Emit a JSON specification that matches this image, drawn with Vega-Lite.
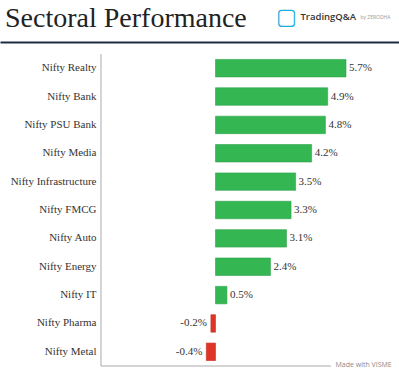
{
  "$schema": "https://vega.github.io/schema/vega-lite/v6.json",
  "width": 399,
  "height": 312,
  "autosize": "none",
  "padding": {"left": 0, "top": 54, "right": 0, "bottom": 9},
  "background": "white",
  "config": {"view": {"stroke": null}},
  "title": {
    "text": "Sectoral Performance",
    "anchor": "start",
    "frame": "group",
    "font": "Liberation Serif",
    "fontSize": 28,
    "fontWeight": "normal",
    "color": "#222222",
    "dx": 5,
    "offset": -50,
    "baseline": "alphabetic"
  },
  "data": {
    "values": [
      {"sector": "Nifty Realty", "value": 0.057, "label": "5.7%"},
      {"sector": "Nifty Bank", "value": 0.049, "label": "4.9%"},
      {"sector": "Nifty PSU Bank", "value": 0.048, "label": "4.8%"},
      {"sector": "Nifty Media", "value": 0.042, "label": "4.2%"},
      {"sector": "Nifty Infrastructure", "value": 0.035, "label": "3.5%"},
      {"sector": "Nifty FMCG", "value": 0.033, "label": "3.3%"},
      {"sector": "Nifty Auto", "value": 0.031, "label": "3.1%"},
      {"sector": "Nifty Energy", "value": 0.024, "label": "2.4%"},
      {"sector": "Nifty IT", "value": 0.005, "label": "0.5%"},
      {"sector": "Nifty Pharma", "value": -0.002, "label": "-0.2%"},
      {"sector": "Nifty Metal", "value": -0.004, "label": "-0.4%"}
    ]
  },
  "resolve": {"axis": {"x": "independent", "y": "independent"}},
  "layer": [
    {
      "mark": {"type": "bar", "strokeWidth": 0.6},
      "encoding": {
        "y": {
          "field": "sector", "type": "nominal", "sort": null,
          "scale": {"paddingInner": 0.384, "paddingOuter": 0.192},
          "axis": {
            "offset": -101, "domain": false, "ticks": false, "labelPadding": 5,
            "labelFont": "Liberation Serif", "labelFontSize": 11, "labelColor": "#333333",
            "title": "by ZERODHA", "titleAngle": 0, "titleX": 259, "titleY": -38,
            "titleAlign": "left", "titleBaseline": "middle", "titleFont": "Open Sans",
            "titleFontSize": 5, "titleFontWeight": "normal", "titleColor": "#9a9a9a"
          }
        },
        "x": {
          "field": "value", "type": "quantitative",
          "scale": {"domain": [-0.09411, 0.08015], "nice": false, "zero": false},
          "axis": {
            "orient": "top", "offset": 12, "domainColor": "#1e2b45", "domainWidth": 2,
            "labels": false, "ticks": false, "grid": false,
            "title": "TradingQ&A", "titleX": 300, "titleY": -26, "titleAlign": "left",
            "titleAnchor": null, "titleBaseline": "middle", "titleFont": "Open Sans",
            "titleFontSize": 9.5, "titleFontWeight": 600, "titleColor": "#333333"
          }
        },
        "x2": {"datum": 0},
        "color": {
          "condition": {"test": "datum.value < 0", "value": "#dd3526"},
          "value": "#34b653"
        },
        "stroke": {
          "condition": {"test": "datum.value < 0", "value": "#c42c20"},
          "value": "#2ea34a"
        }
      }
    },
    {
      "transform": [{"filter": "datum.value >= 0"}],
      "mark": {"type": "text", "align": "left", "baseline": "middle", "dx": 3, "font": "Liberation Serif", "fontSize": 11, "color": "#333333"},
      "encoding": {
        "y": {
          "field": "sector", "type": "nominal", "sort": null,
          "axis": {
            "orient": "right", "domain": false, "ticks": false, "labels": false, "grid": false,
            "title": "▢", "titleAngle": 0, "titleX": -113, "titleY": -38,
            "titleAlign": "center", "titleBaseline": "middle", "titleFont": "DejaVu Sans",
            "titleFontSize": 22, "titleFontWeight": "bold", "titleColor": "#1eaee0"
          }
        },
        "x": {"field": "value", "type": "quantitative", "axis": null},
        "text": {"field": "label", "type": "nominal"}
      }
    },
    {
      "transform": [{"filter": "datum.value < 0"}],
      "mark": {"type": "text", "align": "right", "baseline": "middle", "dx": -4, "font": "Liberation Serif", "fontSize": 11, "color": "#333333"},
      "encoding": {
        "y": {"field": "sector", "type": "nominal", "sort": null, "axis": null},
        "x": {"field": "value", "type": "quantitative", "axis": null},
        "text": {"field": "label", "type": "nominal"}
      }
    },
    {
      "data": {"values": [{"a": 1}]},
      "mark": {"type": "rule", "color": "#aaaaaa", "strokeWidth": 1},
      "encoding": {
        "x": {"datum": -0.05, "type": "quantitative", "axis": null}
      }
    },
    {
      "data": {"values": [{"a": 1}]},
      "mark": {"type": "rule", "color": "#aaaaaa", "strokeWidth": 1},
      "encoding": {
        "x": {
          "datum": -0.05, "type": "quantitative",
          "axis": {
            "orient": "bottom", "domain": false, "labels": false, "ticks": false, "grid": false,
            "title": "Made with VISME", "titleX": 335, "titleY": -2, "titleAlign": "left",
            "titleAnchor": null, "titleBaseline": "middle", "titleFont": "Open Sans",
            "titleFontSize": 7, "titleFontWeight": "normal", "titleColor": "#8a8a8a"
          }
        },
        "x2": {"datum": 0.0504},
        "y": {"value": {"expr": "height"}}
      }
    }
  ]
}
